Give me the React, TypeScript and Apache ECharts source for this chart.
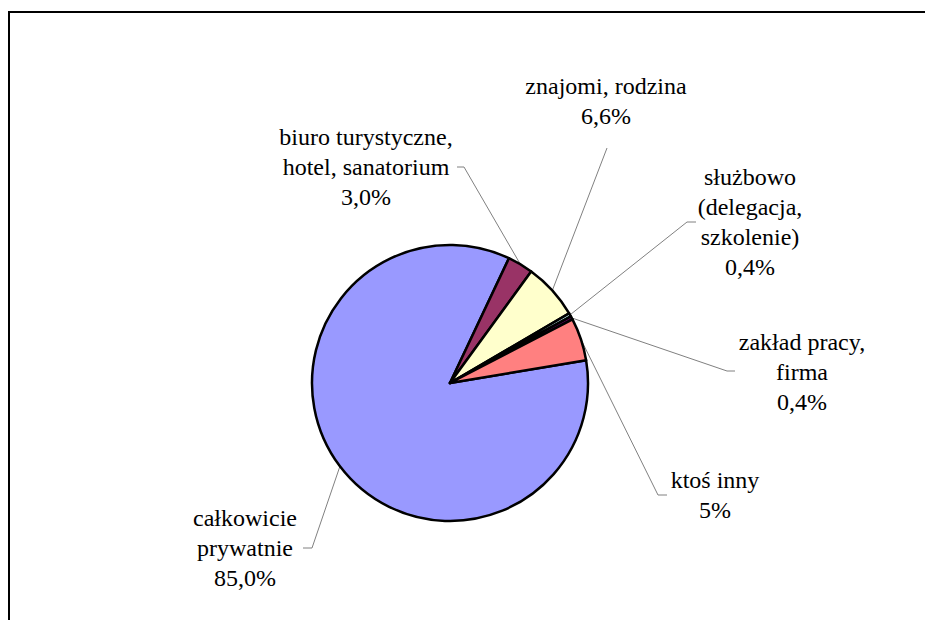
import React, { useEffect, useRef } from "react";
import * as echarts from "echarts";

const categories = [
  "całkowicie\nprywatnie",
  "biuro turystyczne,\nhotel, sanatorium",
  "znajomi, rodzina",
  "służbowo\n(delegacja,\nszkolenie)",
  "zakład pracy,\nfirma",
  "ktoś inny",
];
const values = [85.0, 3.0, 6.6, 0.4, 0.4, 5.0];
const percentLabels = ["85,0%", "3,0%", "6,6%", "0,4%", "0,4%", "5%"];
const colors = ["#9999FF", "#993366", "#FFFFCC", "#CCFFFF", "#660066", "#FF8080"];

// label block centres and leader-line elbow/end points (layout only)
const labelCentres: [number, number][] = [
  [245, 548],
  [366, 167],
  [606, 101],
  [750, 222],
  [802, 372],
  [715, 495],
];
const leaderEnds: [number, number][][] = [
  [[312, 548], [303, 548]],
  [[464, 167], [457, 167]],
  [[607, 148], [607, 148]],
  [[687, 222], [696, 222]],
  [[727, 371], [735, 371]],
  [[658, 495], [667, 495]],
];

const FONT = "Liberation Serif";

export default function App() {
  const ref = useRef<HTMLDivElement>(null);
  useEffect(() => {
    document.body.style.margin = "0";
    if (!ref.current) return;
    const chart = echarts.init(ref.current, null, { renderer: "svg" });
    chart.setOption({
      animation: false,
      backgroundColor: "#ffffff",
      textStyle: { fontFamily: FONT },
      graphic: [
        {
          type: "rect",
          shape: { x: 9, y: 12, width: 1000, height: 1000 },
          style: { fill: "none", stroke: "#000", lineWidth: 2 },
          silent: true,
        },
      ],
      series: [
        {
          type: "pie",
          center: [450, 383],
          radius: 138,
          startAngle: 9.5,
          clockwise: true,
          avoidLabelOverlap: false,
          data: categories.map((name, i) => ({
            name,
            value: values[i],
            itemStyle: { color: colors[i] },
          })),
          itemStyle: { borderColor: "#000", borderWidth: 2.5 },
          label: {
            show: true,
            position: "outside",
            formatter: (p: any) => `${p.name}\n${percentLabels[p.dataIndex]}`,
            fontFamily: FONT,
            fontSize: 24,
            fontWeight: "normal",
            lineHeight: 30,
            color: "#000",
            align: "center",
          },
          labelLine: {
            show: true,
            length: 10,
            length2: 10,
            lineStyle: { color: "#808080", width: 1 },
          },
          labelLayout: (params: any) => {
            const i = params.dataIndex;
            const c = labelCentres[i];
            const pts = params.labelLinePoints;
            const start = pts && pts[0] ? pts[0] : leaderEnds[i][0];
            return {
              x: c[0],
              y: c[1],
              align: "center",
              verticalAlign: "middle",
              labelLinePoints: [start, leaderEnds[i][0], leaderEnds[i][1]],
            };
          },
          emphasis: { disabled: true },
        },
      ],
    });
    return () => chart.dispose();
  }, []);
  return <div ref={ref} style={{ width: 925, height: 620 }} />;
}
